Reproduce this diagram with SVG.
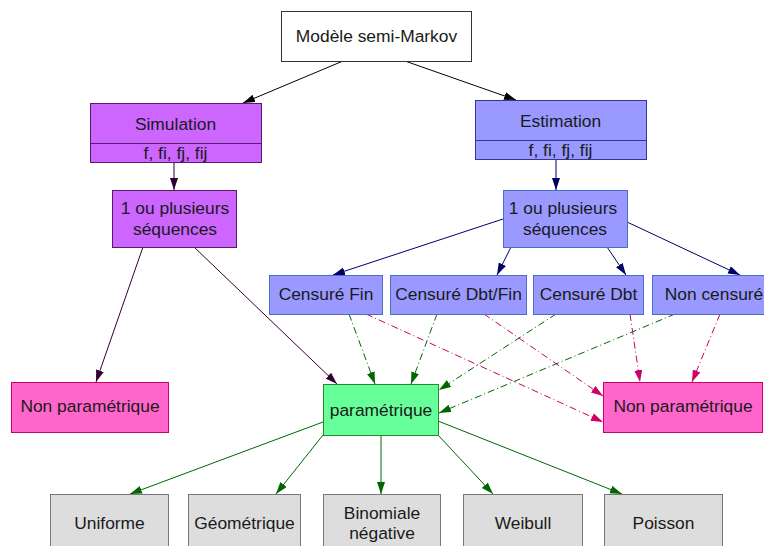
<svg xmlns="http://www.w3.org/2000/svg" width="764" height="546" viewBox="0 0 764 546">
<style>
text{font-family:"Liberation Sans",Arial,sans-serif;font-size:17.4px;fill:#1a1a1a;text-anchor:middle}
.sim{fill:#cc66ff;stroke:#5a1a6a;stroke-width:1}
.est{fill:#9999ff;stroke:#333399;stroke-width:1}
.cen{fill:#9999ff;stroke:#4a6ec0;stroke-width:1}
.np{fill:#ff66cc;stroke:#cc0066;stroke-width:1}
.par{fill:#66ff99;stroke:#2a8a2a;stroke-width:1}
.dist{fill:#dddddd;stroke:#777777;stroke-width:1}
.top{fill:#ffffff;stroke:#333333;stroke-width:1}
.c{fill:none;stroke-width:1}
.k{stroke:#000000;marker-end:url(#mk)}
.p{stroke:#330033;marker-end:url(#mp)}
.n{stroke:#000066;marker-end:url(#mn)}
.g{stroke:#006600;marker-end:url(#mg)}
.gd{stroke:#006600;stroke-dasharray:7,3,1,3;marker-end:url(#mg)}
.r{stroke:#cc0066;stroke-dasharray:7,3,1,3;marker-end:url(#mr)}
</style>
<defs>
<marker id="mk" markerUnits="userSpaceOnUse" markerWidth="13" markerHeight="9" refX="12" refY="4" orient="auto"><path d="M0,0L12,4L0,8z" fill="#000000"/></marker>
<marker id="mp" markerUnits="userSpaceOnUse" markerWidth="13" markerHeight="9" refX="12" refY="4" orient="auto"><path d="M0,0L12,4L0,8z" fill="#330033"/></marker>
<marker id="mn" markerUnits="userSpaceOnUse" markerWidth="13" markerHeight="9" refX="12" refY="4" orient="auto"><path d="M0,0L12,4L0,8z" fill="#000066"/></marker>
<marker id="mg" markerUnits="userSpaceOnUse" markerWidth="13" markerHeight="9" refX="12" refY="4" orient="auto"><path d="M0,0L12,4L0,8z" fill="#006600"/></marker>
<marker id="mr" markerUnits="userSpaceOnUse" markerWidth="13" markerHeight="9" refX="12" refY="4" orient="auto"><path d="M0,0L12,4L0,8z" fill="#cc0066"/></marker>
</defs>
<g id="connectors">
<line class="c k" x1="343" y1="61" x2="243" y2="103"/>
<line class="c k" x1="405" y1="61" x2="516" y2="100"/>
<line class="c p" x1="174" y1="162" x2="174" y2="190"/>
<line class="c n" x1="556" y1="160" x2="556" y2="190"/>
<line class="c n" x1="503" y1="219" x2="333" y2="275"/>
<line class="c n" x1="511" y1="247" x2="497" y2="275"/>
<line class="c n" x1="607" y1="247" x2="626" y2="275"/>
<line class="c n" x1="627" y1="222" x2="740" y2="275"/>
<line class="c p" x1="143" y1="247" x2="96" y2="382"/>
<line class="c p" x1="194" y1="247" x2="337" y2="384"/>
<line class="c gd" x1="349" y1="314" x2="375" y2="384"/>
<line class="c gd" x1="437" y1="314" x2="411" y2="384"/>
<line class="c gd" x1="556" y1="314" x2="439" y2="390"/>
<line class="c gd" x1="675" y1="314" x2="439" y2="413"/>
<line class="c r" x1="366" y1="314" x2="603" y2="422"/>
<line class="c r" x1="484" y1="314" x2="603" y2="396"/>
<line class="c r" x1="630" y1="314" x2="640" y2="382"/>
<line class="c r" x1="720" y1="314" x2="692" y2="382"/>
<line class="c g" x1="323" y1="422" x2="130" y2="494"/>
<line class="c g" x1="323" y1="435" x2="276" y2="494"/>
<line class="c g" x1="381" y1="435" x2="381" y2="494"/>
<line class="c g" x1="438" y1="435" x2="493" y2="494"/>
<line class="c g" x1="438" y1="421" x2="622" y2="494"/>
</g>
<g id="modele"><rect class="top" x="281.5" y="11.5" width="190" height="50"/><text x="376.5" y="42">Modèle semi-Markov</text></g>
<g id="simulation"><rect class="sim" x="90.5" y="103.5" width="171" height="59"/><line x1="90.5" y1="143.5" x2="261.5" y2="143.5" stroke="#5a1a6a"/><text x="175.5" y="130">Simulation</text><text x="175.5" y="159">f, fi, fj, fij</text></g>
<g id="estimation"><rect class="est" x="475.5" y="100.5" width="171" height="59"/><line x1="475.5" y1="140.5" x2="646.5" y2="140.5" stroke="#333399"/><text x="560.5" y="127">Estimation</text><text x="560.5" y="156">f, fi, fj, fij</text></g>
<g id="seq-sim"><rect class="sim" x="112.5" y="190.5" width="124" height="57"/><text x="175" y="214">1 ou plusieurs</text><text x="175" y="235">séquences</text></g>
<g id="seq-est"><rect class="cen" x="503.5" y="190.5" width="124" height="57"/><text x="563" y="214">1 ou plusieurs</text><text x="565" y="235">séquences</text></g>
<g id="censure-fin"><rect class="cen" x="269.5" y="275.5" width="113" height="39"/><text x="326" y="300">Censuré Fin</text></g>
<g id="censure-dbt-fin"><rect class="cen" x="390.5" y="275.5" width="136" height="39"/><text x="458.5" y="300">Censuré Dbt/Fin</text></g>
<g id="censure-dbt"><rect class="cen" x="533.5" y="275.5" width="110" height="39"/><text x="588.5" y="300">Censuré Dbt</text></g>
<g id="non-censure"><rect class="cen" x="652.5" y="275.5" width="124" height="39"/><text x="714" y="300">Non censuré</text></g>
<g id="nonparam-sim"><rect class="np" x="11.5" y="382.5" width="157" height="50"/><text x="90" y="412">Non paramétrique</text></g>
<g id="parametrique"><rect class="par" x="323.5" y="384.5" width="115" height="51"/><text x="381" y="416">paramétrique</text></g>
<g id="nonparam-est"><rect class="np" x="603.5" y="382.5" width="159" height="50"/><text x="683" y="412">Non paramétrique</text></g>
<g id="uniforme"><rect class="dist" x="50.5" y="494.5" width="118" height="60"/><text x="109.5" y="529">Uniforme</text></g>
<g id="geometrique"><rect class="dist" x="188.5" y="494.5" width="112" height="60"/><text x="244.5" y="529">Géométrique</text></g>
<g id="binomiale"><rect class="dist" x="323.5" y="494.5" width="117" height="60"/><text x="382" y="519">Binomiale</text><text x="382" y="539">négative</text></g>
<g id="weibull"><rect class="dist" x="463.5" y="494.5" width="119" height="60"/><text x="523" y="529">Weibull</text></g>
<g id="poisson"><rect class="dist" x="604.5" y="494.5" width="118" height="60"/><text x="663.5" y="529">Poisson</text></g>
</svg>
